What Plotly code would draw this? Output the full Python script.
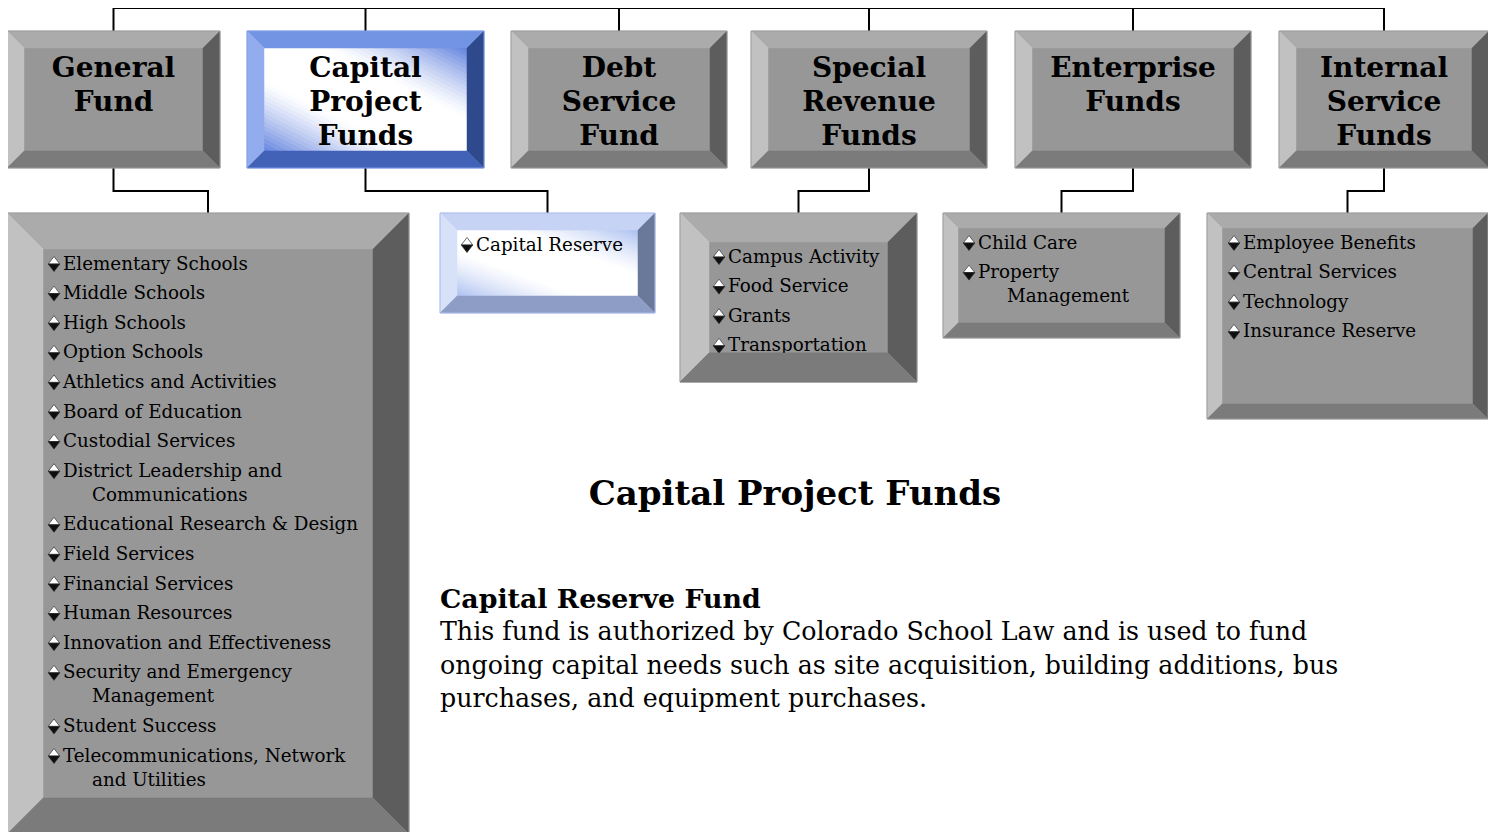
import plotly.graph_objects as go

# ---------------- data ----------------
fund_titles = [
    ["General", "Fund"],
    ["Capital", "Project", "Funds"],
    ["Debt", "Service", "Fund"],
    ["Special", "Revenue", "Funds"],
    ["Enterprise", "Funds"],
    ["Internal", "Service", "Funds"],
]

general_fund_units = [
    ["Elementary Schools"],
    ["Middle Schools"],
    ["High Schools"],
    ["Option Schools"],
    ["Athletics and Activities"],
    ["Board of Education"],
    ["Custodial Services"],
    ["District Leadership and", "Communications"],
    ["Educational Research & Design"],
    ["Field Services"],
    ["Financial Services"],
    ["Human Resources"],
    ["Innovation and Effectiveness"],
    ["Security and Emergency", "Management"],
    ["Student Success"],
    ["Telecommunications, Network", "and Utilities"],
]
capital_project_units = [["Capital Reserve"]]
special_revenue_units = [["Campus Activity"], ["Food Service"], ["Grants"], ["Transportation"]]
enterprise_units = [["Child Care"], ["Property", "Management"]]
internal_service_units = [["Employee Benefits"], ["Central Services"], ["Technology"], ["Insurance Reserve"]]

heading = "Capital Project Funds"
detail_title = "Capital Reserve Fund"
detail_lines = [
    "This fund is authorized by Colorado School Law and is used to fund",
    "ongoing capital needs such as site acquisition, building additions, bus",
    "purchases, and equipment purchases.",
]

# ---------------- layout constants ----------------
W, H = 1496, 832
PAGE_MARGIN = 8  # default body margin of the html page
FONT = "DejaVu Serif"
TOP_Y0, TOP_Y1, TOP_BEVEL = 31, 168, 17
TOP_X = [(7, 220), (247, 484), (511, 727), (751, 987), (1015, 1251), (1279, 1489)]
SELECTED = 1
BUS_Y = 8
ELBOW_Y = 191
SUB_Y0 = 213
# fund index -> (x0, y1, bevel, text_x, first_line_y, units)
SUB = {
    0: (7, 834, 36, 63, 263, general_fund_units),
    1: (440, 313, 17, 476, 244, capital_project_units),
    3: (680, 382, 29, 728, 256, special_revenue_units),
    4: (943, 338, 15, 978, 242, enterprise_units),
    5: (1207, 419, 15, 1243, 242, internal_service_units),
}
SUB_X1 = {0: 409, 1: 655, 3: 917, 4: 1180, 5: 1488}
ITEM_STEP, WRAP_STEP, WRAP_INDENT = 29.6, 24, 29
DY_BIG, DY_SMALL = 3, 2  # vertical text nudges
BULLET = 10
N_STRIPS = 48

GRAY = dict(top="#ABABAB", left="#C1C1C1", right="#5D5D5D", bottom="#7B7B7B",
            center="#979797", border="#9C9C9C", grad=None)
BLUE = dict(top="#7393E3", left="#93ACEE", right="#2E4A8C", bottom="#4262B8",
            center="#FFFFFF", border="#7E9BE6", grad=(98, 130, 222))
LIGHTBLUE = dict(top="#C7D3F4", left="#D7E1F8", right="#6A7899", bottom="#8E9DC6",
                 center="#FFFFFF", border="#A9BAEE", grad=(172, 192, 240))

fig = go.Figure()
shapes = []


def poly(pts):
    return "M " + " L ".join(f"{x:.2f},{y:.2f}" for x, y in pts) + " Z"


def clip(pts, f):
    """Keep the part of polygon pts where f(u, v) >= 0 (f linear)."""
    out = []
    n = len(pts)
    for k in range(n):
        a, b = pts[k], pts[(k + 1) % n]
        fa, fb = f(*a), f(*b)
        if fa >= 0:
            out.append(a)
        if (fa >= 0) != (fb >= 0):
            t = fa / (fa - fb)
            out.append((a[0] + t * (b[0] - a[0]), a[1] + t * (b[1] - a[1])))
    return out


def diagonal_gradient(x0, y0, x1, y1, rgb):
    """White along the top-left/bottom-right diagonal, colour toward the other two corners."""
    w, h = x1 - x0, y1 - y0
    square = [(0, 0), (1, 0), (1, 1), (0, 1)]
    for k in range(N_STRIPS):
        s0 = -1 + 2 * k / N_STRIPS
        s1 = -1 + 2 * (k + 1) / N_STRIPS
        piece = clip(square, lambda u, v: (u - v) - s0)
        piece = clip(piece, lambda u, v: s1 - (u - v))
        if len(piece) < 3:
            continue
        sm = abs((s0 + s1) / 2)
        t = max(0.0, (sm - 0.3) / 0.7) ** 1.3
        col = tuple(round(255 + (c - 255) * t) for c in rgb)
        color = f"rgb{col}"
        shapes.append(dict(type="path", path=poly([(x0 + u * w, y0 + v * h) for u, v in piece]),
                           fillcolor=color, line=dict(color=color, width=0.8), layer="below"))


def bevel(x0, y0, x1, y1, b, pal):
    if pal["grad"] is None:
        shapes.append(dict(type="rect", x0=x0 + b, x1=x1 - b, y0=y0 + b, y1=y1 - b,
                           fillcolor=pal["center"], line=dict(width=0), layer="below"))
    else:
        diagonal_gradient(x0 + b, y0 + b, x1 - b, y1 - b, pal["grad"])
    faces = [
        ("top", [(x0, y0), (x1, y0), (x1 - b, y0 + b), (x0 + b, y0 + b)]),
        ("left", [(x0, y0), (x0 + b, y0 + b), (x0 + b, y1 - b), (x0, y1)]),
        ("right", [(x1, y0), (x1, y1), (x1 - b, y1 - b), (x1 - b, y0 + b)]),
        ("bottom", [(x0, y1), (x0 + b, y1 - b), (x1 - b, y1 - b), (x1, y1)]),
    ]
    for name, pts in faces:
        shapes.append(dict(type="path", path=poly(pts), fillcolor=pal[name],
                           line=dict(color=pal[name], width=0.5), layer="below"))
    shapes.append(dict(type="rect", x0=x0, x1=x1, y0=y0, y1=y1,
                       line=dict(color=pal["border"], width=1), layer="below"))


def line(pts):
    shapes.append(dict(type="path", path="M " + " L ".join(f"{x},{y}" for x, y in pts),
                       line=dict(color="black", width=2), layer="below"))


# connectors
centers = [(a + b) / 2 for a, b in TOP_X]
line([(centers[0], BUS_Y), (centers[-1], BUS_Y)])
line([(727, 0), (727, BUS_Y)])
for c in centers:
    line([(c, BUS_Y), (c, TOP_Y0)])
for i, (x0, y1, b, tx, fy, units) in SUB.items():
    sx = (x0 + SUB_X1[i]) / 2
    line([(centers[i], TOP_Y1), (centers[i], ELBOW_Y), (sx, ELBOW_Y), (sx, SUB_Y0)])

# top boxes
for i, (x0, x1) in enumerate(TOP_X):
    bevel(x0, TOP_Y0, x1, TOP_Y1, TOP_BEVEL, BLUE if i == SELECTED else GRAY)

# sub boxes
for i, (x0, y1, b, tx, fy, units) in SUB.items():
    bevel(x0, SUB_Y0, SUB_X1[i], y1, b, LIGHTBLUE if i == SELECTED else GRAY)

# titles of top boxes
tx_, ty_, tt_ = [], [], []
for i, lines in enumerate(fund_titles):
    for k, s in enumerate(lines):
        tx_.append(centers[i])
        ty_.append(67 + 34 * k + DY_BIG)
        tt_.append(f"<b>{s}</b>")
fig.add_trace(go.Scatter(x=tx_, y=ty_, text=tt_, mode="text", textposition="middle center",
                         textfont=dict(family=FONT, size=28, color="black"),
                         hoverinfo="skip", showlegend=False))

# list items
for i, (x0, y1, b, tx, fy, units) in SUB.items():
    lx, ly, lt, bx, by = [], [], [], [], []
    y = fy
    for item in units:
        bx.append(tx - 9)
        by.append(y + 1)
        for k, s in enumerate(item):
            lx.append(tx + (WRAP_INDENT if k else 0))
            ly.append(y + WRAP_STEP * k + DY_SMALL)
            lt.append(s)
        y += ITEM_STEP + WRAP_STEP * (len(item) - 1)
    fig.add_trace(go.Scatter(x=lx, y=ly, text=lt, mode="text", textposition="middle right",
                             textfont=dict(family=FONT, size=18.3, color="black"),
                             hoverinfo="skip", showlegend=False))
    fig.add_trace(go.Scatter(x=bx, y=[v - BULLET / 4 for v in by], mode="markers",
                             marker=dict(symbol="triangle-up", size=BULLET, color="#FFFFFF",
                                         line=dict(color="#444444", width=0.8)),
                             hoverinfo="skip", showlegend=False))
    fig.add_trace(go.Scatter(x=bx, y=[v + BULLET / 4 for v in by], mode="markers",
                             marker=dict(symbol="triangle-down", size=BULLET, color="#0E0E0E",
                                         line=dict(color="#2A2A2A", width=0.7)),
                             hoverinfo="skip", showlegend=False))

# clip overflow of special revenue list under its bottom bevel
x0, y1, b = SUB[3][0], SUB[3][1], SUB[3][2]
x1 = SUB_X1[3]
shapes.append(dict(type="path", path=poly([(x0, y1), (x0 + b, y1 - b), (x1 - b, y1 - b), (x1, y1)]),
                   fillcolor=GRAY["bottom"], line=dict(color=GRAY["bottom"], width=0.5), layer="above"))

# heading and description
fig.add_trace(go.Scatter(x=[795], y=[493 + DY_BIG], text=[f"<b>{heading}</b>"], mode="text",
                         textposition="middle center",
                         textfont=dict(family=FONT, size=34, color="black"),
                         hoverinfo="skip", showlegend=False))
fig.add_trace(go.Scatter(x=[440], y=[598 + DY_BIG], text=[f"<b>{detail_title}</b>"], mode="text",
                         textposition="middle right",
                         textfont=dict(family=FONT, size=26.8, color="black"),
                         hoverinfo="skip", showlegend=False))
fig.add_trace(go.Scatter(x=[440] * len(detail_lines),
                         y=[631 + 33.5 * k + DY_BIG for k in range(len(detail_lines))],
                         text=detail_lines, mode="text", textposition="middle right",
                         textfont=dict(family=FONT, size=25.3, color="black"),
                         hoverinfo="skip", showlegend=False))

fig.update_layout(
    width=W - PAGE_MARGIN, height=H - PAGE_MARGIN, margin=dict(l=0, r=0, t=0, b=0),
    paper_bgcolor="white", plot_bgcolor="white",
    xaxis=dict(range=[PAGE_MARGIN, W], visible=False, fixedrange=True),
    yaxis=dict(range=[H, PAGE_MARGIN], visible=False, fixedrange=True),
    shapes=shapes, showlegend=False,
)
fig.write_html("out.html")
